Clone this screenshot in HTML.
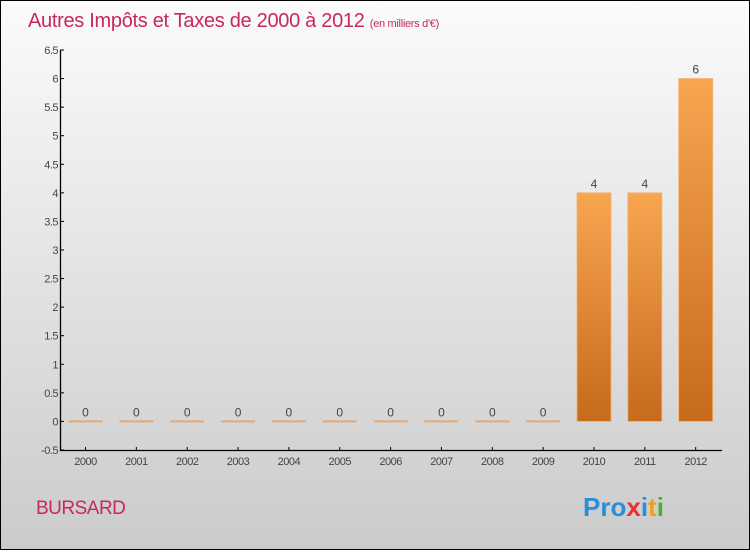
<!DOCTYPE html>
<html><head><meta charset="utf-8"><style>
html,body{margin:0;padding:0}
body{width:750px;height:550px;overflow:hidden;font-family:"Liberation Sans",sans-serif}
</style></head><body>
<svg id="chart" width="750" height="550" xmlns="http://www.w3.org/2000/svg">
<defs>
<linearGradient id="bg" x1="0" y1="0" x2="0" y2="1"><stop offset="0" stop-color="#fbfbfb"/><stop offset="1" stop-color="#cbcbcb"/></linearGradient>
<linearGradient id="bar" x1="0" y1="0" x2="0" y2="1"><stop offset="0" stop-color="#f8a550"/><stop offset="1" stop-color="#c66a1c"/></linearGradient>
</defs>
<rect x="0.5" y="0.5" width="749" height="549" fill="url(#bg)" stroke="#000"/>
<text x="28" y="27" font-size="20" fill="#c8285a" letter-spacing="-0.3">Autres Impôts et Taxes de 2000 à 2012 <tspan font-size="11">(en milliers d'€)</tspan></text>
<text x="36" y="514" font-size="19" fill="#c8285a" letter-spacing="-0.5">BURSARD</text>
<text x="583" y="516" font-size="26" font-weight="bold"><tspan fill="#2a8fd8">Pro</tspan><tspan fill="#e83030">x</tspan><tspan fill="#2a8fd8">i</tspan><tspan fill="#f0a020">t</tspan><tspan fill="#4ab030">i</tspan></text>
<g id="plot"></g>
</svg>
<script>
const categories=['2000','2001','2002','2003','2004','2005','2006','2007','2008','2009','2010','2011','2012'];
const values=[0,0,0,0,0,0,0,0,0,0,4,4,6];
const labels=['0','0','0','0','0','0','0','0','0','0','4','4','6'];
const yTicks=[-0.5,0,0.5,1,1.5,2,2.5,3,3.5,4,4.5,5,5.5,6,6.5];
const yTickLabels=['-0.5','0','0.5','1','1.5','2','2.5','3','3.5','4','4.5','5','5.5','6','6.5'];
const NS='http://www.w3.org/2000/svg';
const g=document.getElementById('plot');
const y=v=>421.4-v*57.14;
const x=i=>85.5+i*50.85;
function mk(t,a){const e=document.createElementNS(NS,t);for(const k in a)e.setAttribute(k,a[k]);g.appendChild(e);return e;}
let ax=mk('path',{d:'M60.5 50V450.5H722',stroke:'#000','stroke-width':1.3,fill:'none'});


yTicks.forEach((v,i)=>{
 const t=mk('line',{x1:60,x2:64,y1:y(v),y2:y(v),stroke:'#000'});
 
 
 const l=mk('text',{x:58,y:y(v)+4,'text-anchor':'end','font-size':11,fill:'#444','letter-spacing':'-0.5'});
 l.textContent=yTickLabels[i];
 
 
});
categories.forEach((c,i)=>{
 const cx=x(i);
 const t=mk('line',{x1:cx,x2:cx,y1:447,y2:451,stroke:'#000'});
 
 
 const l=mk('text',{x:cx,y:465,'text-anchor':'middle','font-size':11,fill:'#444','letter-spacing':'-0.5'});
 l.textContent=c;
 
 
 const v=values[i];
 let b;
 if(v===0){b=mk('rect',{x:cx-17,y:y(0)-1,width:34,height:2,fill:'#e8a870'});}
 else{b=mk('rect',{x:cx-17,y:y(v),width:34,height:y(0)-y(v),fill:'url(#bar)',stroke:'#f4b070','stroke-width':0.8});}
 
 
 const vl=mk('text',{x:cx,y:y(v)-5,'text-anchor':'middle','font-size':12,fill:'#444'});
 vl.textContent=labels[i];
 
 
});
</script>
</body></html>
